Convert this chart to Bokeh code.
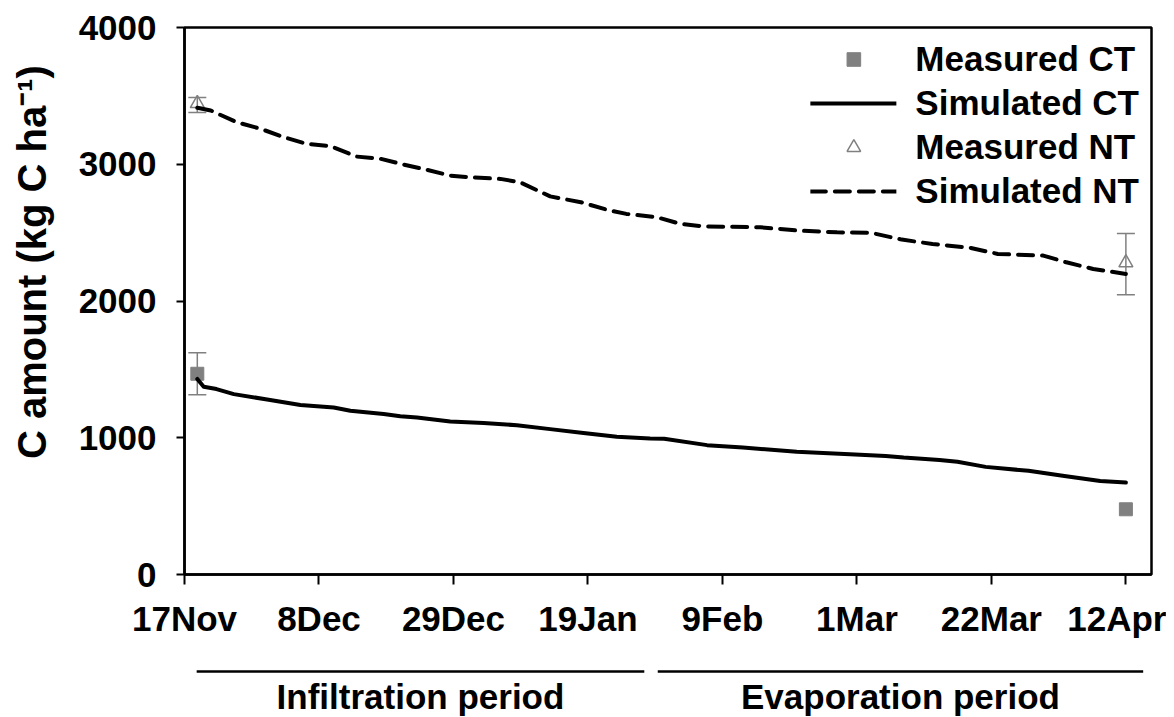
from bokeh.plotting import figure
from bokeh.layouts import column
from bokeh.models import (Range1d, FixedTicker, ColumnDataSource, Whisker, TeeHead,
                          Legend, LegendItem)
from bokeh.core.properties import value
from bokeh.embed import file_html
from bokeh.resources import INLINE

# ---------------- data ----------------
tick_days = [0, 21, 42, 63, 84, 105, 126, 147]
tick_labels = ["17Nov", "8Dec", "29Dec", "19Jan", "9Feb", "1Mar", "22Mar", "12Apr"]

meas_days = [2, 147]
meas_ct = [1468, 477]
meas_nt = [3444, 2280]

err_ct_days = [2]
err_ct_lower = [1314]
err_ct_upper = [1622]

err_nt_days = [2, 147]
err_nt_lower = [3378, 2046]
err_nt_upper = [3488, 2493]

sim_ct_days = [2, 3, 5, 7.7, 12.9, 18.1, 23.3, 25.9, 31.1, 33.7, 36.3, 41.5, 46.7, 51.9,
               57.1, 62.3, 67.5, 72.7, 74.9, 81.6, 87.2, 95.6, 103.9, 109.5, 112.3, 117.9,
               120.7, 125.1, 131.8, 137.4, 143, 147]
sim_ct = [1430, 1373, 1356, 1319, 1280, 1239, 1221, 1197, 1173, 1158, 1148, 1119, 1107, 1092,
          1063, 1034, 1007, 994, 992, 946, 928, 897, 880, 867, 855, 838,
          824, 787, 758, 721, 684, 672]

sim_nt_days = [2, 4.1, 8.2, 11.9, 15.5, 19.1, 22.8, 26.9, 30.6, 34.2, 37.9, 41.5, 44.6, 49.3,
               52.4, 57.1, 61.9, 66.1, 69.0, 73.8, 77.4, 81.0, 89.9, 95.9, 101.9, 107.3,
               112.0, 116.8, 122.8, 127.0, 134.1, 137.7, 141.9, 147]
sim_nt = [3413, 3393, 3307, 3259, 3198, 3149, 3132, 3056, 3040, 2998, 2959, 2917, 2905, 2893,
          2868, 2765, 2722, 2666, 2637, 2612, 2564, 2546, 2539, 2515, 2502, 2498,
          2449, 2417, 2388, 2344, 2332, 2283, 2234, 2198]

periods = ["Infiltration period", "Evaporation period"]
period_start = [1.9, 73.9]
period_end = [71.8, 149.7]

FONT = "Liberation Sans"
GRAY = "#808080"
FS = "35px"

# ---------------- main figure ----------------
p = figure(width=1166, height=644, x_range=Range1d(0, 151), y_range=Range1d(0, 4000),
           output_backend="svg", toolbar_location=None,
           min_border_left=184, min_border_right=15, min_border_top=27, min_border_bottom=70)
p.grid.visible = False
p.outline_line_color = "black"
p.outline_line_width = 2.5
p.background_fill_color = "white"

for ax in (p.xaxis[0], p.yaxis[0]):
    ax.axis_line_color = "black"
    ax.axis_line_width = 2.5
    ax.major_tick_line_color = "black"
    ax.major_tick_line_width = 2
    ax.major_tick_in = 0
    ax.minor_tick_out = 0
    ax.minor_tick_in = 0
    ax.major_label_text_font = FONT
    ax.major_label_text_font_style = "bold"
    ax.major_label_text_font_size = FS
    ax.major_label_text_color = "black"

p.xaxis.ticker = FixedTicker(ticks=tick_days)
p.xaxis.major_label_overrides = {d: l for d, l in zip(tick_days, tick_labels)}
p.xaxis.major_tick_out = 10
p.xaxis.major_label_standoff = 14

p.yaxis.ticker = FixedTicker(ticks=[0, 1000, 2000, 3000, 4000])
p.yaxis.major_tick_out = 8
p.yaxis.major_label_standoff = 20
p.yaxis.axis_label = "\u00a0" * 7 + "C amount (kg C ha\u207b\u00b9)"
p.yaxis.axis_label_text_font = FONT
p.yaxis.axis_label_text_font_style = "bold"
p.yaxis.axis_label_text_font_size = "40px"
p.yaxis.axis_label_text_color = "black"
p.yaxis.axis_label_standoff = 22

# error bars
src_ect = ColumnDataSource(dict(x=err_ct_days, lo=err_ct_lower, hi=err_ct_upper))
src_ent = ColumnDataSource(dict(x=err_nt_days, lo=err_nt_lower, hi=err_nt_upper))
for s in (src_ect, src_ent):
    p.add_layout(Whisker(source=s, base="x", lower="lo", upper="hi", dimension="height",
                         line_color=GRAY, line_width=1.5,
                         lower_head=TeeHead(size=18, line_color=GRAY, line_width=1.5),
                         upper_head=TeeHead(size=18, line_color=GRAY, line_width=1.5)))

# measured points
r_mct = p.scatter(meas_days, meas_ct, marker="square", size=13, fill_color=GRAY,
                  line_color=GRAY)
r_mnt = p.scatter(meas_days, meas_nt, marker="triangle", size=14, fill_color="white",
                  fill_alpha=0, line_color=GRAY, line_width=1.5)

# simulated lines
r_sct = p.line(sim_ct_days, sim_ct, line_color="black", line_width=4, line_join="round",
               line_cap="round")
r_snt = p.line(sim_nt_days, sim_nt, line_color="black", line_width=4, line_dash="15 9",
               line_join="round", line_cap="round")

legend = Legend(items=[LegendItem(label="Measured CT", renderers=[r_mct]),
                       LegendItem(label="Simulated CT", renderers=[r_sct]),
                       LegendItem(label="Measured NT", renderers=[r_mnt]),
                       LegendItem(label="Simulated NT", renderers=[r_snt])],
                location="top_right", background_fill_alpha=0, border_line_alpha=0,
                label_text_font=FONT, label_text_font_style="bold",
                label_text_font_size=FS, label_text_color="black",
                glyph_width=86, glyph_height=34, label_height=34, label_standoff=19,
                spacing=4, padding=6, margin=6)
p.add_layout(legend)

# ---------------- period annotations ----------------
p2 = figure(width=1166, height=73, x_range=p.x_range, y_range=Range1d(73, 0),
            output_backend="svg", toolbar_location=None, min_border=0,
            min_border_left=184, min_border_right=15)
p2.axis.visible = False
p2.grid.visible = False
p2.outline_line_color = None
p2.segment(x0=period_start, y0=[27, 27], x1=period_end, y1=[27, 27],
           line_color="black", line_width=2.5)
mid = [(a + b) / 2 for a, b in zip(period_start, period_end)]
p2.text(x=mid, y=[52, 52], text=periods, text_align="center", text_baseline="middle",
        text_font=value(FONT), text_font_style="bold", text_font_size=FS,
        text_color="black")

layout = column(p, p2, spacing=0)
open("out.html", "w").write(file_html(layout, INLINE))
